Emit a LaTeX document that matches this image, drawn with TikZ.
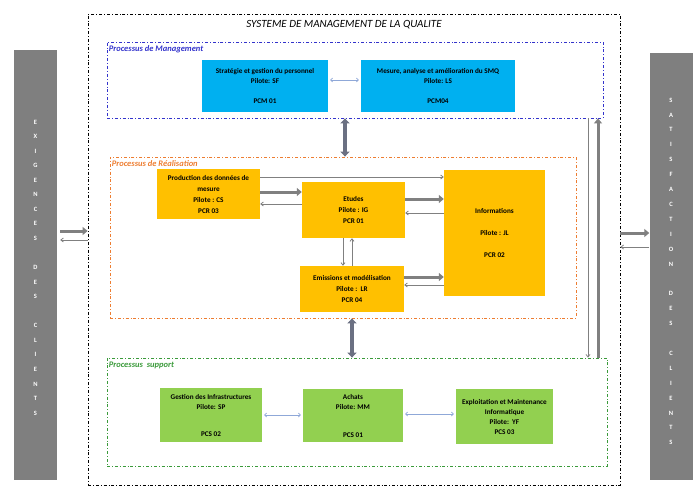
\documentclass[tikz,border=0pt]{standalone}
\usepackage{fontspec}
\setmainfont{Carlito}
\usetikzlibrary{arrows.meta}
\definecolor{smqblue}{HTML}{00B0F0}
\definecolor{smqyellow}{HTML}{FFC000}
\definecolor{smqgreen}{HTML}{92D050}
\definecolor{mgmtline}{HTML}{3333CC}
\definecolor{realline}{HTML}{ED7D31}
\definecolor{suppline}{HTML}{3A9A3A}
\definecolor{panelgray}{HTML}{7F7F7F}
\definecolor{arrgray}{HTML}{808080}
\definecolor{slate}{HTML}{6B7082}
\definecolor{linkblue}{HTML}{8FA8D8}

\begin{document}
\begin{tikzpicture}[x=1pt, y=-1pt,
    font=\fontsize{7.2}{10}\selectfont\bfseries,
    cadre/.style={draw, line width=0.8pt, dash pattern=on 3pt off 2pt on 0.8pt off 2pt, inner sep=0},
    etiquette/.style={anchor=north west, inner sep=2pt, yshift=-2pt, font=\fontsize{8.5}{10}\selectfont\bfseries\itshape},
    flux/.style={draw=arrgray, line width=3pt, -{Triangle[length=5pt,width=8pt]}},
    retour/.style={draw=arrgray, line width=0.8pt, -{Straight Barb[length=2.5pt,width=4pt]}},
    lien/.style={draw=linkblue, line width=0.7pt, {Straight Barb[length=2pt,width=4pt]}-{Straight Barb[length=2pt,width=4pt]}, shorten <=2pt, shorten >=2pt},
    double/.style={draw=slate, line width=4pt, {Triangle[length=5pt,width=9pt]}-{Triangle[length=5pt,width=9pt]}}]
    \useasboundingbox (0,0) rectangle (694,487);

    % cadres
    \node[cadre, draw=black, minimum width=532pt, minimum height=471pt] (smq) at (354,249.5) {};
    \node[font=\fontsize{11}{13}\selectfont\itshape] (titre) at (344,25) {SYSTEME DE MANAGEMENT DE LA QUALITE};
    \node[cadre, draw=mgmtline, minimum width=496pt, minimum height=76pt] (mgmt) at (355,80) {};
    \node[etiquette, text=mgmtline] (mgmtlbl) at (mgmt.north west) {Processus de Management};
    \node[cadre, draw=realline, minimum width=466pt, minimum height=161pt] (real) at (343,237.5) {};
    \node[etiquette, text=realline] (reallbl) at (real.north west) {Processus de Réalisation};
    \node[cadre, draw=suppline, minimum width=500pt, minimum height=108pt] (supp) at (357,412) {};
    \node[etiquette, text=suppline] (supplbl) at (supp.north west) {Processus\ \ support};

    % clients
    \begin{scope}
        \tikzstyle{every node}=[fill=panelgray, minimum width=43pt, inner sep=0]
        \node[minimum height=430pt] (exg) at (35.5,265) {};
        \node[minimum height=427pt] (sat) at (671,266.5) {};
    \end{scope}
    \begin{scope}
        \tikzstyle{every node}=[text=white, inner sep=0, font=\fontsize{6.5}{7}\selectfont\bfseries]
        \foreach \c [count=\i] in {E,X,I,G,E,N,C,E,S,{},D,E,S,{},C,L,I,E,N,T,S}
            \node (exg-\i) at (35.5,{122+14.55*(\i-1)}) {\c};
        \foreach \c [count=\i] in {S,A,T,I,S,F,A,C,T,I,O,N,{},D,E,S,{},C,L,I,E,N,T,S}
            \node (sat-\i) at (671,{100+14.9*(\i-1)}) {\c};
    \end{scope}

    % processus
    \begin{scope}
        \tikzstyle{every node}=[fill=smqblue, minimum height=52pt, inner sep=0, align=center]
        \node[minimum width=126pt] (pcm01) at (265,86) {Stratégie et gestion du personnel\\Pilote: SF\\[10pt]PCM 01};
        \node[minimum width=154pt] (pcm04) at (438,86) {Mesure, analyse et amélioration du SMQ\\Pilote: LS\\[10pt]PCM04};
    \end{scope}
    \begin{scope}
        \tikzstyle{every node}=[fill=smqyellow, inner sep=0, align=center, font=\fontsize{7.2}{11}\selectfont\bfseries]
        \node[minimum width=103pt, minimum height=50pt] (pcr03) at (208.5,194) {Production des données de\\mesure\\Pilote : CS\\PCR 03};
        \node[minimum width=103pt, minimum height=56pt] (pcr01) at (353.5,210) {Etudes\\Pilote : IG\\PCR 01};
        \node[minimum width=101pt, minimum height=126pt] (pcr02) at (494.5,233) {Informations\\[11pt]Pilote : JL\\[11pt]PCR 02};
        \node[minimum width=104pt, minimum height=46pt] (pcr04) at (352,289) {Emissions et modélisation\\Pilote :\ \ LR\\PCR 04};
    \end{scope}
    \begin{scope}
        \tikzstyle{every node}=[fill=smqgreen, inner sep=0, align=center]
        \node[minimum width=102pt, minimum height=54pt] (pcs02) at (211,415) {Gestion des Infrastructures\\Pilote: SP\\[17pt]PCS 02};
        \node[minimum width=100pt, minimum height=53pt] (pcs01) at (353,415.5) {Achats\\Pilote: MM\\[18pt]PCS 01};
        \node[minimum width=97pt, minimum height=55pt] (pcs03) at (504.5,416.5) {Exploitation et Maintenance\\Informatique\\Pilote:\ \ YF\\PCS 03};
    \end{scope}

    % liaisons
    \path
    (exg.east |- 0,231) edge[flux, shorten <=3pt] (smq.west |- 0,231)
    (smq.west |- 0,240) edge[retour, shorten >=3pt] (exg.east |- 0,240)
    (smq.east |- 0,233) edge[flux] (sat.west |- 0,233)
    (sat.west |- 0,247) edge[retour] (smq.east |- 0,247)
    (pcm01.east |- 0,80) edge[lien] (pcm04.west |- 0,80)
    (mgmt.south -| 345,0) edge[double] (real.north -| 345,0)
    (real.south -| 352,0) edge[double] (supp.north -| 352,0)
    (mgmt.south -| 588,0) edge[retour] (supp.north -| 588,0)
    (supp.north -| 598,0) edge[flux] (mgmt.south -| 598,0)
    (pcr03.east |- 0,177) edge[retour] (pcr02.west |- 0,177)
    (pcr03.east |- 0,192) edge[flux] (pcr01.west |- 0,192)
    (pcr01.west |- 0,204) edge[retour] (pcr03.east |- 0,204)
    (pcr01.east |- 0,199) edge[flux] (pcr02.west |- 0,199)
    (pcr02.west |- 0,213) edge[retour] (pcr01.east |- 0,213)
    (pcr01.south -| 343,0) edge[retour] (pcr04.north -| 343,0)
    (pcr04.north -| 352,0) edge[retour] (pcr01.south -| 352,0)
    (pcr04.east |- 0,277) edge[flux] (pcr02.west |- 0,277)
    (pcr02.west |- 0,285) edge[retour] (pcr04.east |- 0,285)
    (pcs02.east |- 0,415) edge[lien] (pcs01.west |- 0,415)
    (pcs01.east |- 0,414) edge[lien] (pcs03.west |- 0,414)
    ;
\end{tikzpicture}
\end{document}
